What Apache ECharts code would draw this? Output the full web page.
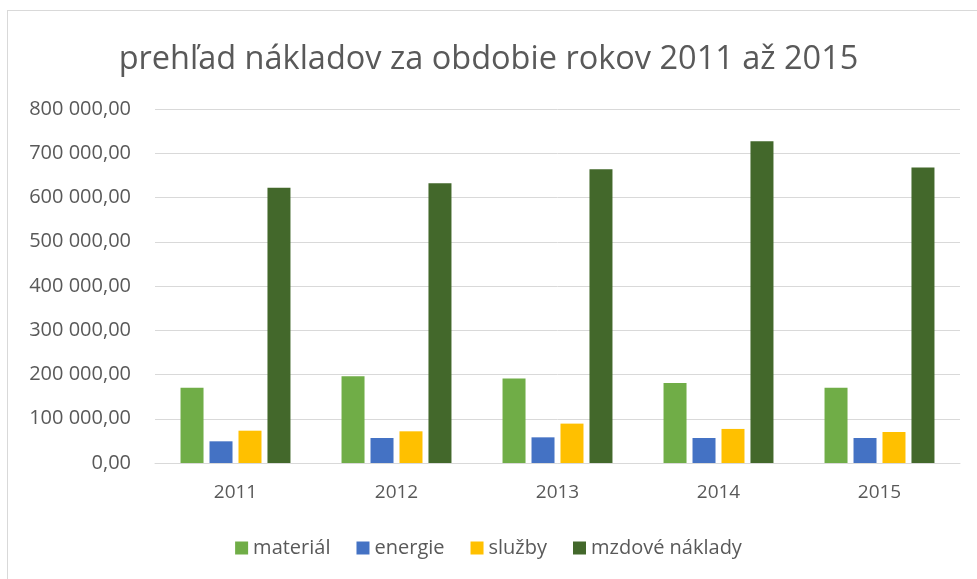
<!DOCTYPE html>
<html>
<head>
<meta charset="utf-8">
<script src="https://cdn.jsdelivr.net/npm/echarts@6/dist/echarts.min.js"></script>
<style>
  html, body { margin: 0; padding: 0; background: #fff; }
  #main { position: absolute; left: 0; top: 0; width: 977px; height: 579px; }
  .frame { position: absolute; left: 7px; top: 10px; width: 975px; height: 580px; border: 1px solid #d9d9d9; box-sizing: border-box; pointer-events: none; }
</style>
</head>
<body>
<div id="main"></div>
<div class="frame"></div>
<script>
const years = ["2011", "2012", "2013", "2014", "2015"];
const material = [170000, 196000, 191000, 181000, 170000];
const energie = [49000, 56500, 58000, 56500, 56500];
const sluzby = [73000, 71600, 89000, 77000, 70000];
const mzdove = [622000, 632000, 664000, 727000, 668000];

const chart = echarts.init(document.getElementById("main"));

function fmt(v) {
  const parts = Math.round(v).toString().replace(/\B(?=(\d{3})+(?!\d))/g, " ");
  return parts + ",00";
}

const textColor = "#595959";
const font = "Open Sans";

const option = {
  animation: false,
  title: {
    text: "prehľad nákladov za obdobie rokov 2011 až 2015",
    left: "center",
    top: 38,
    textStyle: { fontFamily: font, fontWeight: "normal", fontSize: 32.5, color: textColor }
  },
  legend: {
    bottom: 16,
    left: "center",
    itemWidth: 13,
    itemHeight: 13,
    itemGap: 26,
    icon: "rect",
    textStyle: { fontFamily: font, fontSize: 20, color: textColor },
    data: ["materiál", "energie", "služby", "mzdové náklady"]
  },
  grid: { left: 155, right: 17, top: 109, bottom: 116, containLabel: false },
  xAxis: {
    type: "category",
    data: years,
    axisLine: { lineStyle: { color: "#d9d9d9", width: 1 } },
    axisTick: { show: false },
    axisLabel: { fontFamily: font, fontSize: 19, color: textColor, margin: 20 }
  },
  yAxis: {
    type: "value",
    min: 0,
    max: 800000,
    interval: 100000,
    axisLine: { show: false },
    axisTick: { show: false },
    splitLine: { lineStyle: { color: "#d9d9d9", width: 1 } },
    axisLabel: { fontFamily: font, fontSize: 20, color: textColor, margin: 24, formatter: fmt }
  },
  series: [
    { name: "materiál", type: "bar", data: material, itemStyle: { color: "#70ad47" }, barWidth: 23, barGap: "26%" },
    { name: "energie", type: "bar", data: energie, itemStyle: { color: "#4472c4" }, barWidth: 23, barGap: "26%" },
    { name: "služby", type: "bar", data: sluzby, itemStyle: { color: "#ffc000" }, barWidth: 23, barGap: "26%" },
    { name: "mzdové náklady", type: "bar", data: mzdove, itemStyle: { color: "#43682b" }, barWidth: 23, barGap: "26%" }
  ]
};
chart.setOption(option);
</script>
</body>
</html>
